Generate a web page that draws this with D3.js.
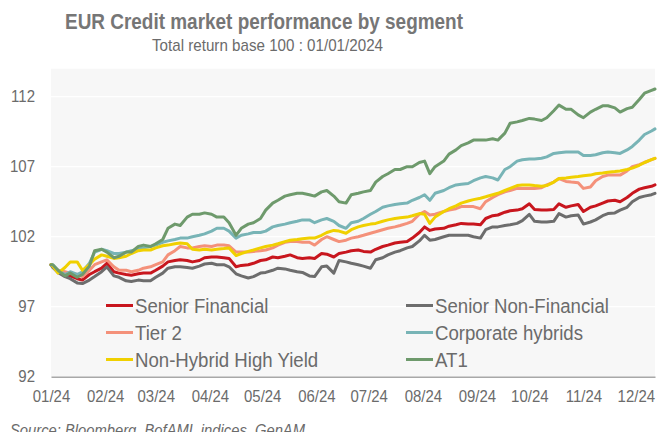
<!DOCTYPE html>
<html>
<head>
<meta charset="utf-8">
<script src="https://cdn.jsdelivr.net/npm/d3@7"></script>
<style>
  html, body { margin: 0; padding: 0; background: #ffffff; }
  svg { display: block; font-family: "Liberation Sans", Arial, sans-serif; }
</style>
</head>
<body>
<svg id="chart" width="657" height="432"></svg>
<script>
// Observation dates (2024)
const dates = [
  "2024-01-01","2024-01-02","2024-01-05","2024-01-09","2024-01-12","2024-01-16","2024-01-19","2024-01-23","2024-01-26","2024-01-30",
  "2024-02-02","2024-02-06","2024-02-09","2024-02-13","2024-02-16","2024-02-20","2024-02-23","2024-02-27",
  "2024-03-01","2024-03-05","2024-03-08","2024-03-12","2024-03-15","2024-03-19","2024-03-22","2024-03-26","2024-03-29",
  "2024-04-02","2024-04-05","2024-04-09","2024-04-12","2024-04-16","2024-04-19","2024-04-23","2024-04-26","2024-04-30",
  "2024-05-03","2024-05-07","2024-05-10","2024-05-14","2024-05-17","2024-05-21","2024-05-24","2024-05-28","2024-05-31",
  "2024-06-04","2024-06-07","2024-06-11","2024-06-14","2024-06-18","2024-06-21","2024-06-25","2024-06-28",
  "2024-07-02","2024-07-05","2024-07-09","2024-07-12","2024-07-16","2024-07-19","2024-07-23","2024-07-26","2024-07-30",
  "2024-08-02","2024-08-05","2024-08-08","2024-08-13","2024-08-16","2024-08-20","2024-08-23","2024-08-27","2024-08-30",
  "2024-09-03","2024-09-06","2024-09-10","2024-09-13","2024-09-17","2024-09-20","2024-09-24","2024-09-27",
  "2024-10-01","2024-10-04","2024-10-08","2024-10-11","2024-10-15","2024-10-18","2024-10-22","2024-10-25","2024-10-29",
  "2024-11-01","2024-11-05","2024-11-08","2024-11-12","2024-11-15","2024-11-19","2024-11-22","2024-11-26","2024-11-29",
  "2024-12-03","2024-12-06","2024-12-10","2024-12-12"
];

const seniorFinancial = [
  100, 99.9, 99.6, 99.3, 99.2, 99.0, 98.9, 99.3, 99.5, 99.75,
  100.1, 99.5, 99.4, 99.3, 99.25, 99.35, 99.4, 99.4,
  99.6, 99.9, 100.2, 100.3, 100.35, 100.3, 100.2, 100.3, 100.5,
  100.55, 100.55, 100.5, 100.45, 99.85, 99.95, 100.0, 100.1, 100.3,
  100.35, 100.55, 100.5, 100.6, 100.7, 100.5, 100.45, 100.5, 100.45,
  100.8, 100.75, 100.55, 100.8, 100.9, 101.0, 101.05, 100.95,
  100.9, 101.1, 101.3, 101.4, 101.55, 101.6, 101.65, 101.9, 102.3,
  102.7, 102.45, 102.55, 102.6, 102.75, 102.85, 102.95, 102.9, 102.9,
  102.85, 103.3, 103.5, 103.55, 103.75, 103.85, 103.9, 104.0,
  104.35, 103.95, 103.9, 103.9, 103.95, 104.35, 104.1, 104.2, 104.3,
  103.8, 104.1, 104.2, 104.4, 104.55, 104.6, 104.5, 104.8, 105.1,
  105.4, 105.5, 105.6, 105.7
];

const seniorNonFinancial = [
  100, 99.8, 99.45, 99.15, 99.0, 98.7, 98.65, 98.9, 99.15, 99.5,
  99.85, 99.2, 99.1, 98.85, 98.8, 98.9, 98.85, 98.85,
  99.1, 99.4, 99.75, 99.85, 99.85, 99.8, 99.75, 99.9, 100.05,
  100.1, 100.0, 100.0, 99.85, 99.35, 99.2, 99.05, 99.15, 99.4,
  99.45, 99.6, 99.75, 99.7, 99.6, 99.5, 99.45, 99.2, 99.15,
  99.85, 99.9, 99.4, 100.3, 100.2, 100.1, 100.0, 99.9,
  99.75, 100.35, 100.5, 100.7, 100.9, 101.0, 101.2, 101.3, 101.7,
  102.1, 101.75, 101.8, 102.0, 102.1, 102.1, 102.1, 102.1, 102.0,
  101.9, 102.5, 102.7, 102.7, 102.8, 102.85, 102.95, 103.15,
  103.6, 103.1, 103.05, 103.05, 103.1, 103.65, 103.4, 103.5, 103.55,
  102.9, 103.05, 103.2, 103.5, 103.65, 103.7, 103.9, 104.1, 104.5,
  104.8, 104.9, 105.0, 105.1
];

const tier2 = [
  100, 99.9, 99.6, 99.5, 99.4, 99.3, 99.15, 99.6, 100.0, 100.2,
  100.35, 99.85, 99.6, 99.6, 99.5, 99.6, 99.75, 99.85,
  100.0, 100.2, 100.7, 101.0, 101.3, 101.2, 101.2, 101.3, 101.35,
  101.3, 101.4, 101.4, 101.35, 100.9, 100.9, 100.9, 100.95, 101.0,
  101.05, 101.2, 101.4, 101.6, 101.65, 101.65, 101.6, 101.6, 101.4,
  101.8, 102.0, 101.8, 101.65, 101.75, 101.9, 102.0, 102.1,
  102.25, 102.35, 102.5, 102.6, 102.7, 102.8, 102.95, 103.1, 103.6,
  103.8, 103.55, 103.6, 103.8, 103.9, 104.0, 104.15, 104.15, 104.15,
  104.0, 104.5, 104.8, 105.0, 105.2, 105.3, 105.45, 105.45,
  105.45, 105.45, 105.5, 105.7, 105.9, 106.15, 105.95, 105.9, 105.85,
  105.45, 105.55, 106.0, 106.3, 106.4, 106.4, 106.4, 106.7, 107.0,
  107.15, 107.3, 107.5, 107.6
];

const corporateHybrids = [
  100, 100.0, 99.6, 99.3, 99.5, 99.3, 99.5, 100.1, 100.9, 101.1,
  101.0, 100.8, 100.8, 100.9, 101.0, 101.1, 101.2, 101.3,
  101.4, 101.6, 101.7, 101.8, 101.9, 101.9, 102.0, 102.1, 102.2,
  102.4, 102.6, 102.6, 102.4, 101.9, 102.1, 102.2, 102.3, 102.3,
  102.4, 102.7, 102.8, 102.9, 103.0, 103.1, 103.2, 103.2, 103.0,
  103.2, 103.3, 103.1, 102.8, 102.6, 103.0, 103.1, 103.3,
  103.6, 103.8, 104.1, 104.2, 104.3, 104.35, 104.4, 104.6, 104.8,
  105.0, 104.6, 105.1, 105.3, 105.5, 105.7, 105.75, 105.8, 106.0,
  106.2, 106.3, 106.2, 106.05, 106.8, 107.0, 107.4, 107.5,
  107.55, 107.55, 107.6, 107.7, 107.95, 108.0, 108.05, 108.05, 108.05,
  107.8, 107.8, 107.85, 108.0, 108.05, 108.0, 107.95, 108.2, 108.45,
  108.9, 109.3, 109.55, 109.7
];

const nonHybridHighYield = [
  100, 99.9, 99.4, 99.8, 100.2, 100.2, 99.6, 100.0, 100.4, 100.7,
  100.6, 100.45, 100.5, 100.6, 100.8, 101.0, 101.05, 101.05,
  101.2, 101.35, 101.4, 101.5, 101.55, 101.5, 101.1, 101.05, 101.1,
  101.05, 101.1, 101.15, 101.2, 100.65, 100.8, 100.95, 101.05, 101.2,
  101.3, 101.4, 101.5, 101.65, 101.75, 101.8, 101.85, 101.9, 101.9,
  102.1, 102.3, 102.45, 102.4, 102.25, 102.5, 102.7, 102.8,
  102.9, 102.95, 103.1, 103.2, 103.3, 103.35, 103.4, 103.5, 103.65,
  103.6, 102.95, 103.4, 103.8, 104.0, 104.2, 104.4, 104.55, 104.65,
  104.75, 104.85, 105.0, 105.1, 105.3, 105.45, 105.65, 105.7,
  105.7, 105.65, 105.6, 105.65, 105.9, 106.15, 106.2, 106.25, 106.3,
  106.35, 106.4, 106.5, 106.55, 106.6, 106.65, 106.7, 106.8, 106.9,
  107.1, 107.3, 107.5, 107.6
];

const at1 = [
  100, 100, 99.6, 99.2, 99.4, 99.1, 99.3, 99.9, 101.0, 101.1,
  100.9, 100.5, 100.6, 100.9, 100.9, 101.3, 101.4, 101.3,
  101.5, 101.8, 102.6, 102.9, 102.8, 103.4, 103.6, 103.6, 103.7,
  103.6, 103.4, 103.4, 103.0, 102.1, 102.6, 102.9, 103.0, 103.3,
  103.9, 104.4, 104.6, 104.9, 105.0, 105.1, 105.1, 105.0, 104.9,
  105.2, 105.3, 104.9, 104.5, 104.4, 105.0, 105.1, 105.2,
  105.3, 105.9, 106.3, 106.5, 106.8, 106.8, 107.0, 107.0, 107.3,
  107.4, 106.5, 107.0, 107.4, 107.9, 108.2, 108.5, 108.7, 108.9,
  108.9, 108.9, 109.0, 108.9, 109.4, 110.1, 110.2, 110.3,
  110.45, 110.4, 110.3, 110.5, 111.0, 111.4, 111.1, 111.1, 110.7,
  110.5, 110.9, 111.1, 111.35, 111.35, 111.2, 110.9, 111.15, 111.25,
  111.8, 112.25, 112.45, 112.55
];

const seriesNames = ["Senior Financial", "Senior Non-Financial", "Tier 2",
                     "Corporate hybrids", "Non-Hybrid High Yield", "AT1"];
const seriesColors = ["#c8161e", "#6d6d6d", "#f4917a", "#78b4b6", "#f0d000", "#6e9a6c"];
const seriesValues = [seriesFinancialGuard(seniorFinancial), seniorNonFinancial, tier2,
                      corporateHybrids, nonHybridHighYield, at1];
function seriesFinancialGuard(a) { return a; }

const yTicks = [92, 97, 102, 107, 112];

const titleText = "EUR Credit market performance by segment";
const subtitleText = "Total return base 100 : 01/01/2024";
const sourceText = "Source: Bloomberg, BofAML indices, GenAM";

// ---- layout ----
const plot = { left: 51, right: 655, top: 68.7, bottom: 376.7 };
const textGrey = "#6b6b6b";

const parse = d3.timeParse("%Y-%m-%d");
const dateObjs = dates.map(parse);

const x = d3.scaleTime()
  .domain([new Date(2024, 0, 1), new Date(2024, 11, 12)])
  .range([plot.left, plot.right]);
const y = d3.scaleLinear()
  .domain([92, 114])
  .range([plot.bottom, plot.top]);

const svg = d3.select("#chart");

// squeeze text horizontally (narrow typeface look)
function squeeze(sel, ratio) {
  sel.each(function () {
    const w = this.getComputedTextLength();
    d3.select(this).attr("textLength", (w * ratio).toFixed(1))
      .attr("lengthAdjust", "spacingAndGlyphs");
  });
}

// titles
svg.append("text")
  .attr("x", 264).attr("y", 28.5)
  .attr("text-anchor", "middle")
  .attr("font-size", 22).attr("font-weight", "bold")
  .attr("fill", "#767676")
  .attr("textLength", 398).attr("lengthAdjust", "spacingAndGlyphs")
  .text(titleText);

svg.append("text")
  .attr("x", 267.5).attr("y", 50.7)
  .attr("text-anchor", "middle")
  .attr("font-size", 17)
  .attr("fill", textGrey)
  .attr("textLength", 231).attr("lengthAdjust", "spacingAndGlyphs")
  .text(subtitleText);

// plot background
svg.append("rect")
  .attr("x", plot.left).attr("y", plot.top)
  .attr("width", plot.right - plot.left)
  .attr("height", plot.bottom - plot.top)
  .attr("fill", "#f7f7f7");

// horizontal gridlines
svg.append("g").selectAll("line")
  .data(yTicks.filter(t => t !== 92))
  .join("line")
  .attr("x1", plot.left).attr("x2", plot.right)
  .attr("y1", d => y(d)).attr("y2", d => y(d))
  .attr("stroke", "#ffffff").attr("stroke-width", 1.3);

// y axis labels
const yAxis = svg.append("g")
  .attr("transform", `translate(${plot.left},0)`)
  .call(d3.axisLeft(y).tickValues(yTicks).tickSize(0).tickPadding(16));
yAxis.select(".domain").remove();
yAxis.selectAll("text")
  .attr("font-size", 17).attr("fill", textGrey)
  .attr("font-family", "Liberation Sans, Arial, sans-serif")
  .attr("dy", "0.3em");
squeeze(yAxis.selectAll("text"), 0.88);

// x axis
const xAxis = svg.append("g")
  .attr("transform", `translate(0,${plot.bottom})`)
  .call(d3.axisBottom(x)
    .ticks(d3.timeMonth.every(1))
    .tickFormat(d3.timeFormat("%m/%y"))
    .tickSize(0));
xAxis.select(".domain")
  .attr("stroke", "#a8a8a8").attr("stroke-width", 1.6);
xAxis.selectAll("text")
  .attr("font-size", 17).attr("fill", textGrey)
  .attr("font-family", "Liberation Sans, Arial, sans-serif")
  .attr("y", 25).attr("dy", 0);
squeeze(xAxis.selectAll("text"), 0.88);

// series lines
const line = d3.line()
  .x((d, i) => x(dateObjs[i]))
  .y(d => y(d));

svg.append("g").selectAll("path")
  .data(seriesValues)
  .join("path")
  .attr("d", d => line(d))
  .attr("fill", "none")
  .attr("stroke", (d, i) => seriesColors[i])
  .attr("stroke-width", 3)
  .attr("stroke-linejoin", "round")
  .attr("stroke-linecap", "round");

// legend: two columns, three rows
const legendCols = [106, 406];
const legendRows = [305.5, 332.5, 359.5];
const legend = svg.append("g");
seriesNames.forEach((name, i) => {
  const cx = legendCols[i % 2];
  const cy = legendRows[Math.floor(i / 2)];
  legend.append("line")
    .attr("x1", cx).attr("x2", cx + 27)
    .attr("y1", cy).attr("y2", cy)
    .attr("stroke", seriesColors[i]).attr("stroke-width", 3);
  legend.append("text")
    .attr("x", cx + 29).attr("y", cy + 7.5)
    .attr("font-size", 19.5).attr("fill", textGrey)
    .text(name);
});
squeeze(legend.selectAll("text"), 0.955);

// source note
svg.append("text")
  .attr("x", 10).attr("y", 436)
  .attr("font-size", 16).attr("font-style", "italic")
  .attr("fill", textGrey)
  .attr("textLength", 295).attr("lengthAdjust", "spacingAndGlyphs")
  .text(sourceText);
</script>
</body>
</html>
